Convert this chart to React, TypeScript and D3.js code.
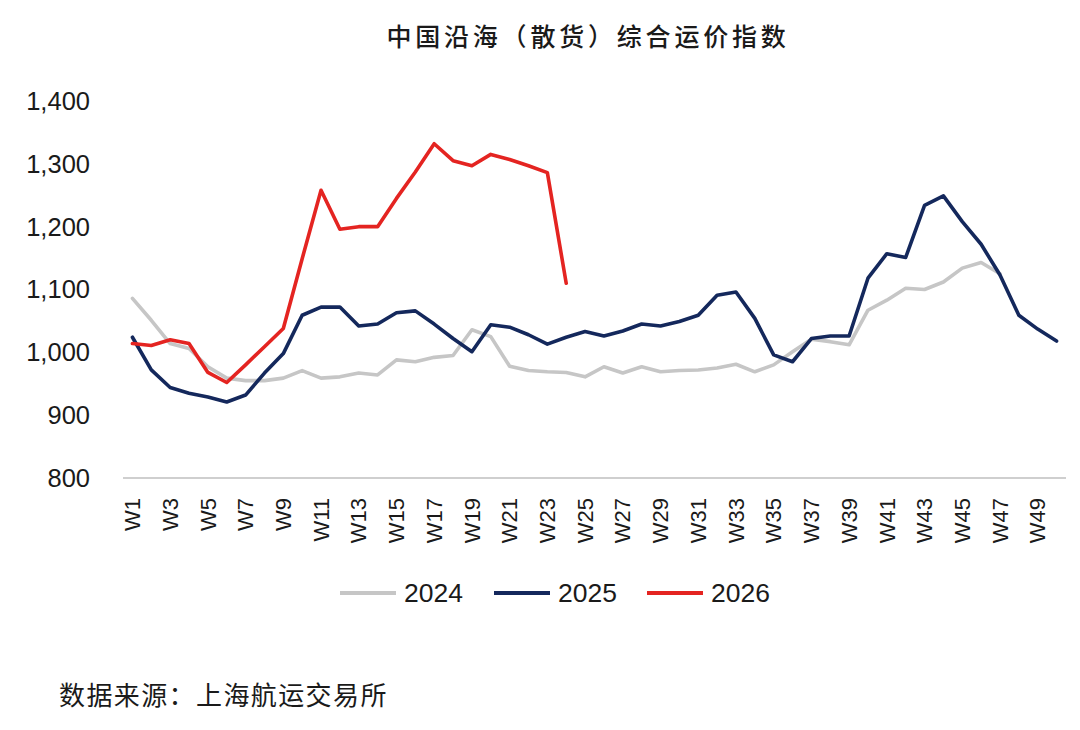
import * as d3 from "d3"

const weeks = d3.range(1, 51).map((i) => `W${i}`)
const tickWeeks = weeks.filter((_, i) => i % 2 === 0)

const s2024 = [
  1086, 1051, 1014, 1006, 977, 959, 955, 955, 959, 971,
  959, 961, 967, 964, 988, 985, 992, 995, 1036, 1025,
  978, 971, 969, 968, 961, 977, 967, 977, 969, 971,
  972, 975, 981, 969, 980, 1001, 1021, 1017, 1012, 1067,
  1083, 1102, 1100, 1112, 1134, 1143, 1125,
]
const s2025 = [
  1024, 972, 944, 935, 929, 921, 932, 967, 998, 1059,
  1072, 1072, 1042, 1045, 1063, 1066, 1045, 1022, 1001, 1044,
  1040, 1028, 1013, 1024, 1033, 1026, 1034, 1045, 1042, 1049,
  1059, 1091, 1096, 1054, 996, 985, 1022, 1026, 1026, 1118,
  1157, 1151, 1234, 1249, 1208, 1172, 1123, 1059, 1037, 1018,
]
const s2026 = [
  1014, 1011, 1020, 1014, 968, 952, 980, 1009, 1038, 1149,
  1258, 1196, 1200, 1200, 1245, 1287, 1332, 1305, 1297, 1315,
  1307, 1297, 1286, 1110,
]
const yTicks = [800, 900, 1000, 1100, 1200, 1300, 1400]

const seriesList = [
  { name: "2024", values: s2024, color: "#c6c6c6" },
  { name: "2025", values: s2025, color: "#14285c" },
  { name: "2026", values: s2026, color: "#e42421" },
]

const title = "中国沿海（散货）综合运价指数"
const source = "数据来源：上海航运交易所"

const W = 1080
const H = 730

export default function App() {
  const x = d3.scalePoint<string>().domain(weeks).range([123, 1066]).padding(0.5)
  const y = d3.scaleLinear().domain([800, 1400]).range([478, 101])

  const line = d3
    .line<number>()
    .x((_, i) => x(weeks[i]) as number)
    .y((d) => y(d))

  const latin = "'Liberation Sans', Arial, sans-serif"
  const cjk = "'Noto Sans CJK SC', sans-serif"

  // 图例位置
  const legendX = [340, 494, 647]

  return (
    <svg
      width={W}
      height={H}
      style={{ position: "absolute", left: 0, top: 0, background: "#fff" }}
    >
      <rect width={W} height={H} fill="#fff" />

      {/* 标题 */}
      <text
        x={588}
        y={46}
        textAnchor="middle"
        fontFamily={cjk}
        fontSize={25}
        fontWeight={500}
        letterSpacing={3.8}
        fill="#1a1a1a"
      >
        {title}
      </text>

      {/* y 轴刻度 */}
      {yTicks.map((t) => (
        <text
          key={t}
          x={90}
          y={y(t)}
          dy="0.35em"
          textAnchor="end"
          fontFamily={latin}
          fontSize={25.5}
          fill="#1a1a1a"
        >
          {d3.format(",")(t)}
        </text>
      ))}

      {/* x 轴 */}
      <line x1={123} x2={1066} y1={y(800)} y2={y(800)} stroke="#cfcfcf" strokeWidth={2} />
      {tickWeeks.map((w) => (
        <text
          key={w}
          transform={`translate(${x(w)},498) rotate(-90)`}
          dy="0.35em"
          textAnchor="end"
          fontFamily={latin}
          fontSize={22}
          fill="#1a1a1a"
        >
          {w}
        </text>
      ))}

      {/* 折线 */}
      {seriesList.map((s) => (
        <path
          key={s.name}
          d={line(s.values) ?? ""}
          fill="none"
          stroke={s.color}
          strokeWidth={3.6}
          strokeLinejoin="round"
          strokeLinecap="round"
        />
      ))}

      {/* 图例 */}
      {seriesList.map((s, i) => (
        <g key={s.name} transform={`translate(${legendX[i]},593)`}>
          <line x1={0} x2={56} y1={0} y2={0} stroke={s.color} strokeWidth={4} />
          <text x={64} dy="0.35em" fontFamily={latin} fontSize={26.5} fill="#1a1a1a">
            {s.name}
          </text>
        </g>
      ))}

      {/* 数据来源 */}
      <text x={59} y={705} fontFamily={cjk} fontSize={26} letterSpacing={1.4} fill="#1a1a1a">
        {source}
      </text>
    </svg>
  )
}
